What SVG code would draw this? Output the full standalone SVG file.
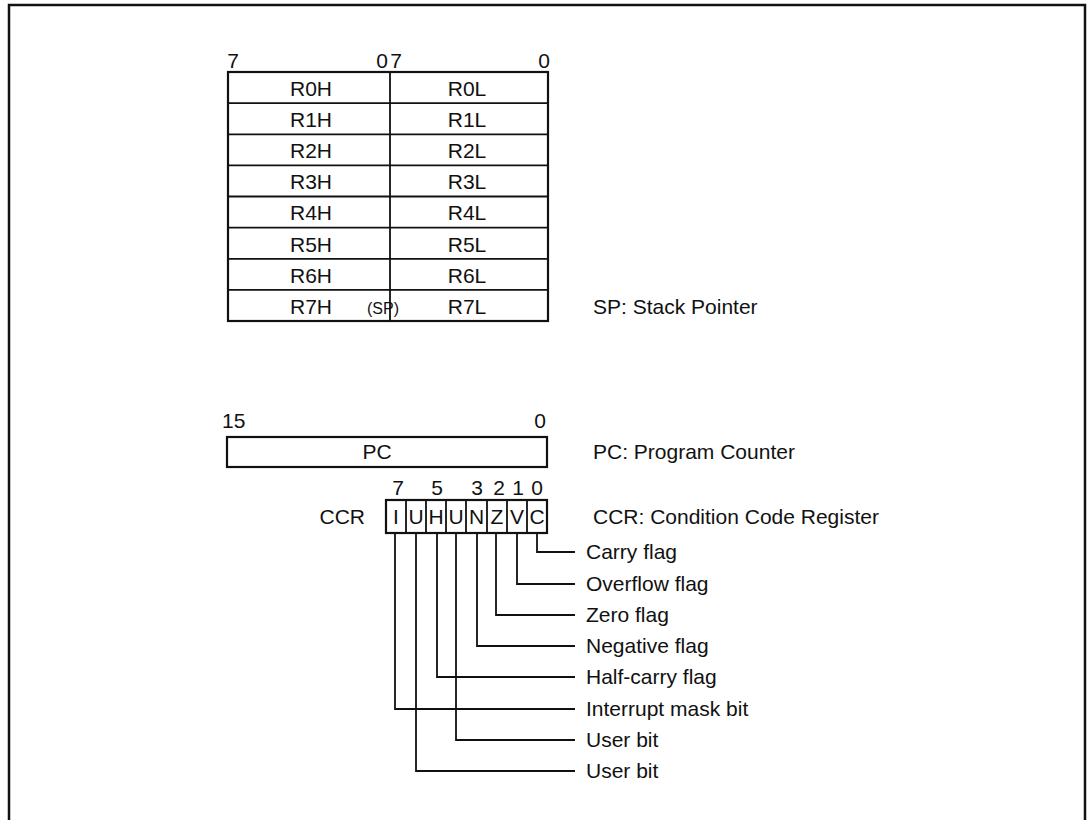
<svg xmlns="http://www.w3.org/2000/svg" width="1087" height="820" viewBox="0 0 1087 820">
<style>
text{font-family:"Liberation Sans",Arial,sans-serif;font-size:21px;fill:#111}
.c{text-anchor:middle}
.box{fill:#fff;stroke:#111;stroke-width:2.2}
.ln{fill:none;stroke:#111;stroke-width:1.8}
</style>
<rect width="1087" height="820" fill="#fff"/>
<path d="M9,820 V5 H1085 V820" fill="none" stroke="#111" stroke-width="2.5"/>

<g id="gpr">
<text x="233" y="68" class="c">7</text>
<text x="382" y="68" class="c">0</text>
<text x="396" y="68" class="c">7</text>
<text x="544" y="68" class="c">0</text>
<rect class="box" x="228" y="72" width="320" height="249"/>
<path class="ln" d="M390,72 V321 M228,103.1 H548 M228,134.3 H548 M228,165.4 H548 M228,196.5 H548 M228,227.6 H548 M228,258.8 H548 M228,289.9 H548"/>
<text x="311" y="96" class="c">R0H</text><text x="467" y="96" class="c">R0L</text>
<text x="311" y="127" class="c">R1H</text><text x="467" y="127" class="c">R1L</text>
<text x="311" y="158" class="c">R2H</text><text x="467" y="158" class="c">R2L</text>
<text x="311" y="189" class="c">R3H</text><text x="467" y="189" class="c">R3L</text>
<text x="311" y="220" class="c">R4H</text><text x="467" y="220" class="c">R4L</text>
<text x="311" y="252" class="c">R5H</text><text x="467" y="252" class="c">R5L</text>
<text x="311" y="283" class="c">R6H</text><text x="467" y="283" class="c">R6L</text>
<text x="311" y="314" class="c">R7H</text><text x="467" y="314" class="c">R7L</text>
<text x="383" y="314" class="c" style="font-size:16px">(SP)</text>
<text x="593" y="314">SP: Stack Pointer</text>
</g>

<g id="pc">
<text x="222" y="428">15</text>
<text x="540" y="428" class="c">0</text>
<rect class="box" x="227" y="437" width="320" height="30"/>
<text x="377" y="459" class="c">PC</text>
<text x="593" y="459">PC: Program Counter</text>
</g>

<g id="ccr">
<text x="398" y="495" class="c">7</text>
<text x="437" y="495" class="c">5</text>
<text x="477" y="495" class="c">3</text>
<text x="499" y="495" class="c">2</text>
<text x="518" y="495" class="c">1</text>
<text x="537" y="495" class="c">0</text>
<text x="365" y="524" text-anchor="end">CCR</text>
<rect class="box" x="386" y="500" width="161" height="33"/>
<path class="ln" d="M406,500 V533 M426,500 V533 M446,500 V533 M466,500 V533 M487,500 V533 M507,500 V533 M527,500 V533"/>
<text x="396" y="524" class="c">I</text>
<text x="416" y="524" class="c">U</text>
<text x="436" y="524" class="c">H</text>
<text x="456" y="524" class="c">U</text>
<text x="476.5" y="524" class="c">N</text>
<text x="497" y="524" class="c">Z</text>
<text x="517" y="524" class="c">V</text>
<text x="537" y="524" class="c">C</text>
<text x="593" y="524">CCR: Condition Code Register</text>
</g>

<g id="connectors">
<path class="ln" d="M537,533 V552 H575"/>
<path class="ln" d="M517,533 V584 H575"/>
<path class="ln" d="M496,533 V615 H575"/>
<path class="ln" d="M477,533 V646 H575"/>
<path class="ln" d="M437,533 V677 H575"/>
<path class="ln" d="M395,533 V709 H575"/>
<path class="ln" d="M456,533 V740 H575"/>
<path class="ln" d="M416,533 V771 H575"/>
</g>

<g id="flags">
<text x="586" y="559">Carry flag</text>
<text x="586" y="591">Overflow flag</text>
<text x="586" y="622">Zero flag</text>
<text x="586" y="653">Negative flag</text>
<text x="586" y="684">Half-carry flag</text>
<text x="586" y="716">Interrupt mask bit</text>
<text x="586" y="747">User bit</text>
<text x="586" y="778">User bit</text>
</g>
</svg>
